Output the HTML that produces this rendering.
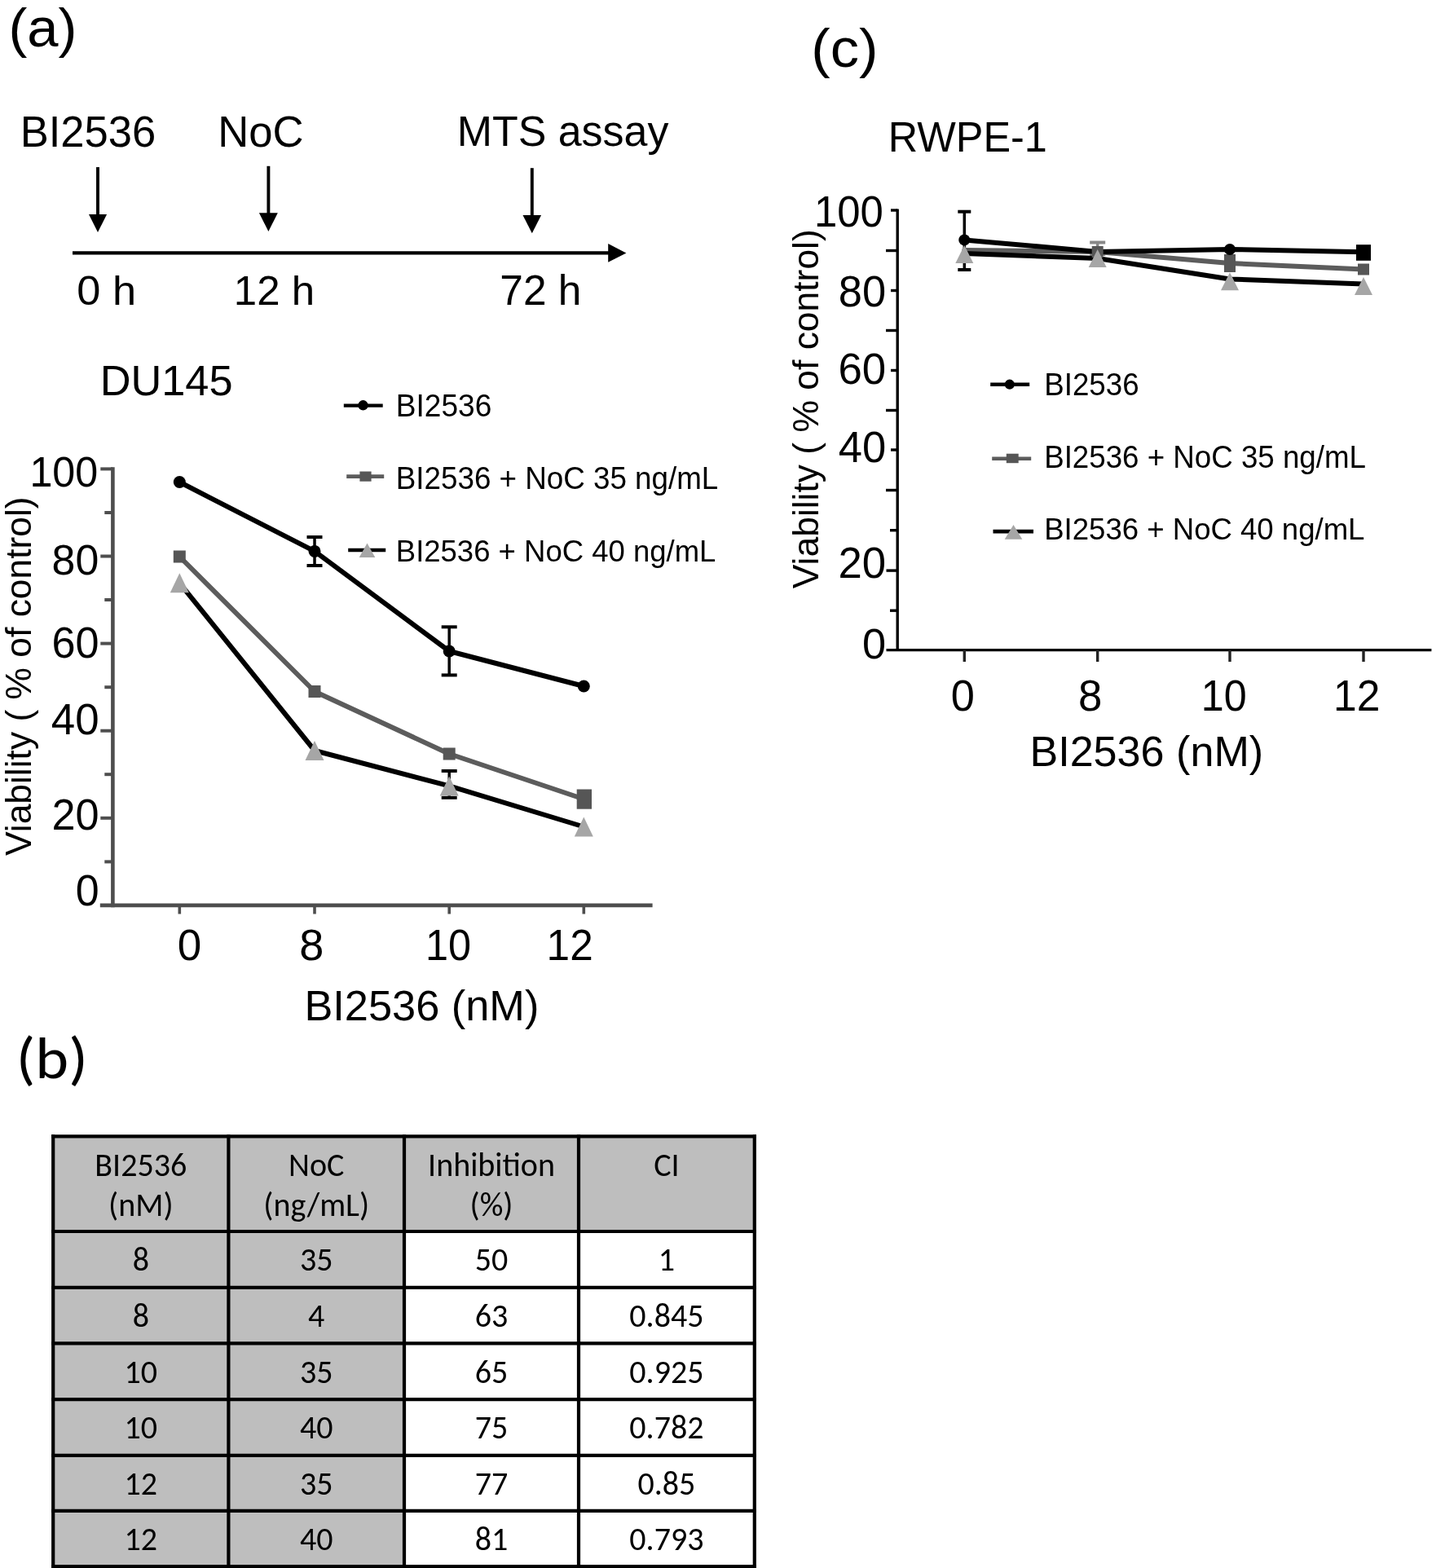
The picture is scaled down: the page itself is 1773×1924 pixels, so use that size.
<!DOCTYPE html>
<html><head><meta charset="utf-8"><title>Figure</title>
<style>html,body{margin:0;padding:0;background:#fff;}body{width:1773px;height:1924px;overflow:hidden;}svg{display:block;}</style>
</head><body>
<svg width="1773" height="1924" viewBox="0 0 1773 1924">
<rect width="1773" height="1924" fill="#fff"/>
<text transform="translate(10.4 56.8) scale(1.020 1)" font-size="67.45" font-family="'Liberation Sans', Arial, sans-serif" fill="#000">(a)</text>
<text transform="translate(24.7 180.0) scale(0.992 1)" font-size="53.00" font-family="'Liberation Sans', Arial, sans-serif" fill="#000">BI2536</text>
<text transform="translate(267.2 180.0) scale(0.995 1)" font-size="53.00" font-family="'Liberation Sans', Arial, sans-serif" fill="#000">NoC</text>
<text x="560.7" y="179.2" font-size="51.93" font-family="'Liberation Sans', Arial, sans-serif" fill="#000">MTS assay</text>
<line x1="120.0" y1="205.1" x2="120.0" y2="265.1" stroke="#000" stroke-width="3.9" stroke-linecap="butt"/>
<polygon points="109.0,263.1 131.1,263.1 120.0,284.9" fill="#000"/>
<line x1="329.4" y1="203.8" x2="329.4" y2="263.3" stroke="#000" stroke-width="3.9" stroke-linecap="butt"/>
<polygon points="317.9,261.3 340.8,261.3 329.4,283.9" fill="#000"/>
<line x1="652.8" y1="206.2" x2="652.8" y2="266.1" stroke="#000" stroke-width="3.9" stroke-linecap="butt"/>
<polygon points="641.5,264.1 664.1,264.1 652.8,286.2" fill="#000"/>
<line x1="89.0" y1="310.4" x2="750.0" y2="310.4" stroke="#000" stroke-width="4.2" stroke-linecap="butt"/>
<polygon points="746.2,299.1 768.4,310.4 746.2,321.7" fill="#000"/>
<text transform="translate(94.3 374.0) scale(1.043 1)" font-size="50.20" font-family="'Liberation Sans', Arial, sans-serif" fill="#000">0 h</text>
<text transform="translate(286.8 374.0) scale(1.016 1)" font-size="50.21" font-family="'Liberation Sans', Arial, sans-serif" fill="#000">12 h</text>
<text transform="translate(613.3 374.0) scale(1.008 1)" font-size="51.03" font-family="'Liberation Sans', Arial, sans-serif" fill="#000">72 h</text>
<text x="122.7" y="485.0" font-size="52.33" font-family="'Liberation Sans', Arial, sans-serif" fill="#000">DU145</text>
<line x1="138.4" y1="573.3" x2="138.4" y2="1113.2" stroke="#4e4e4e" stroke-width="4.6" stroke-linecap="butt"/>
<line x1="122.8" y1="1110.9" x2="800.6" y2="1110.9" stroke="#4e4e4e" stroke-width="4.6" stroke-linecap="butt"/>
<line x1="123.3" y1="575.4" x2="138.2" y2="575.4" stroke="#4e4e4e" stroke-width="4" stroke-linecap="butt"/>
<line x1="128.3" y1="629.0" x2="138.2" y2="629.0" stroke="#4e4e4e" stroke-width="4" stroke-linecap="butt"/>
<line x1="123.3" y1="682.5" x2="138.2" y2="682.5" stroke="#4e4e4e" stroke-width="4" stroke-linecap="butt"/>
<line x1="128.3" y1="736.0" x2="138.2" y2="736.0" stroke="#4e4e4e" stroke-width="4" stroke-linecap="butt"/>
<line x1="123.3" y1="789.6" x2="138.2" y2="789.6" stroke="#4e4e4e" stroke-width="4" stroke-linecap="butt"/>
<line x1="128.3" y1="843.2" x2="138.2" y2="843.2" stroke="#4e4e4e" stroke-width="4" stroke-linecap="butt"/>
<line x1="123.3" y1="896.7" x2="138.2" y2="896.7" stroke="#4e4e4e" stroke-width="4" stroke-linecap="butt"/>
<line x1="128.3" y1="950.2" x2="138.2" y2="950.2" stroke="#4e4e4e" stroke-width="4" stroke-linecap="butt"/>
<line x1="123.3" y1="1003.8" x2="138.2" y2="1003.8" stroke="#4e4e4e" stroke-width="4" stroke-linecap="butt"/>
<line x1="128.3" y1="1057.4" x2="138.2" y2="1057.4" stroke="#4e4e4e" stroke-width="4" stroke-linecap="butt"/>
<line x1="220.3" y1="1110.9" x2="220.3" y2="1121.5" stroke="#4e4e4e" stroke-width="3.6" stroke-linecap="butt"/>
<line x1="386.0" y1="1110.9" x2="386.0" y2="1121.5" stroke="#4e4e4e" stroke-width="3.6" stroke-linecap="butt"/>
<line x1="551.2" y1="1110.9" x2="551.2" y2="1121.5" stroke="#4e4e4e" stroke-width="3.6" stroke-linecap="butt"/>
<line x1="716.3" y1="1110.9" x2="716.3" y2="1121.5" stroke="#4e4e4e" stroke-width="3.6" stroke-linecap="butt"/>
<text transform="translate(36.4 596.8) scale(0.958 1)" font-size="52.44" font-family="'Liberation Sans', Arial, sans-serif" fill="#000">100</text>
<text transform="translate(63.6 705.0) scale(0.989 1)" font-size="52.44" font-family="'Liberation Sans', Arial, sans-serif" fill="#000">80</text>
<text transform="translate(63.4 807.2) scale(0.980 1)" font-size="53.29" font-family="'Liberation Sans', Arial, sans-serif" fill="#000">60</text>
<text x="62.8" y="900.6" font-size="52.86" font-family="'Liberation Sans', Arial, sans-serif" fill="#000">40</text>
<text transform="translate(63.4 1018.0) scale(0.974 1)" font-size="53.71" font-family="'Liberation Sans', Arial, sans-serif" fill="#000">20</text>
<text transform="translate(92.7 1111.0) scale(0.980 1)" font-size="53.00" font-family="'Liberation Sans', Arial, sans-serif" fill="#000">0</text>
<text x="217.7" y="1177.8" font-size="53.00" font-family="'Liberation Sans', Arial, sans-serif" fill="#000">0</text>
<text transform="translate(367.2 1177.8) scale(1.020 1)" font-size="53.00" font-family="'Liberation Sans', Arial, sans-serif" fill="#000">8</text>
<text transform="translate(521.9 1178.0) scale(0.951 1)" font-size="53.00" font-family="'Liberation Sans', Arial, sans-serif" fill="#000">10</text>
<text transform="translate(670.6 1178.0) scale(0.968 1)" font-size="53.05" font-family="'Liberation Sans', Arial, sans-serif" fill="#000">12</text>
<text x="373.4" y="1251.9" font-size="52.33" font-family="'Liberation Sans', Arial, sans-serif" fill="#000">BI2536 (nM)</text>
<text transform="translate(38.3 1050.0) rotate(-90)" font-size="44.39" font-family="'Liberation Sans', Arial, sans-serif">Viability ( % of control)</text>
<line x1="386.0" y1="659.0" x2="386.0" y2="694.0" stroke="#000" stroke-width="3.5" stroke-linecap="butt"/>
<line x1="376.5" y1="659.0" x2="395.5" y2="659.0" stroke="#000" stroke-width="4.0" stroke-linecap="butt"/>
<line x1="376.5" y1="694.0" x2="395.5" y2="694.0" stroke="#000" stroke-width="4.0" stroke-linecap="butt"/>
<line x1="551.2" y1="769.3" x2="551.2" y2="828.4" stroke="#000" stroke-width="3.5" stroke-linecap="butt"/>
<line x1="541.7" y1="769.3" x2="560.7" y2="769.3" stroke="#000" stroke-width="4.0" stroke-linecap="butt"/>
<line x1="541.7" y1="828.4" x2="560.7" y2="828.4" stroke="#000" stroke-width="4.0" stroke-linecap="butt"/>
<line x1="551.2" y1="946.0" x2="551.2" y2="978.8" stroke="#000" stroke-width="3.5" stroke-linecap="butt"/>
<line x1="541.7" y1="946.0" x2="560.7" y2="946.0" stroke="#000" stroke-width="4.0" stroke-linecap="butt"/>
<line x1="541.7" y1="978.8" x2="560.7" y2="978.8" stroke="#000" stroke-width="4.0" stroke-linecap="butt"/>
<polyline points="220.3,683.0 386.0,848.5 551.2,925.0 716.3,980.5" fill="none" stroke="#5c5c5c" stroke-width="6" stroke-linejoin="round" stroke-linecap="round"/>
<polyline points="220.3,715.3 386.0,921.0 551.2,964.4 716.3,1014.5" fill="none" stroke="#000" stroke-width="6" stroke-linejoin="round" stroke-linecap="round"/>
<polyline points="220.3,591.5 386.0,676.4 551.2,799.0 716.3,842.0" fill="none" stroke="#000" stroke-width="6" stroke-linejoin="round" stroke-linecap="round"/>
<circle cx="220.3" cy="591.5" r="7.5" fill="#000"/>
<circle cx="386.0" cy="676.4" r="7.5" fill="#000"/>
<circle cx="551.2" cy="799.0" r="7.5" fill="#000"/>
<circle cx="716.3" cy="842.0" r="7.5" fill="#000"/>
<rect x="212.8" y="675.5" width="15" height="15" fill="#565656"/>
<rect x="378.5" y="841.0" width="15" height="15" fill="#565656"/>
<rect x="543.7" y="917.5" width="15" height="15" fill="#565656"/>
<rect x="707.7" y="968.5" width="18.3" height="24.2" fill="#565656"/>
<polygon points="220.3,703.3 231.8,727.3 208.8,727.3" fill="#a6a6a6"/>
<polygon points="386.0,909.0 397.5,933.0 374.5,933.0" fill="#a6a6a6"/>
<polygon points="551.2,952.4 562.7,976.4 539.7,976.4" fill="#a6a6a6"/>
<polygon points="716.3,1002.5 727.8,1026.5 704.8,1026.5" fill="#a6a6a6"/>
<line x1="421.8" y1="497.6" x2="469.7" y2="497.6" stroke="#000" stroke-width="4.4" stroke-linecap="butt"/>
<circle cx="445.5" cy="497.3" r="6.2" fill="#000"/>
<line x1="425.2" y1="584.6" x2="471.2" y2="584.6" stroke="#5c5c5c" stroke-width="4.6" stroke-linecap="butt"/>
<rect x="441.4" y="578.5" width="14.2" height="12.2" fill="#565656"/>
<line x1="427.2" y1="675.0" x2="473.2" y2="675.0" stroke="#000" stroke-width="4.6" stroke-linecap="butt"/>
<polygon points="450.5,666.5 460.3,684.1 440.7,684.1" fill="#a6a6a6"/>
<text transform="translate(485.8 599.9) scale(0.969 1)" font-size="37.96" font-family="'Liberation Sans', Arial, sans-serif">BI2536 + NoC 35 ng/mL</text>
<text transform="translate(485.8 510.7) scale(0.973 1)" font-size="38.11" font-family="'Liberation Sans', Arial, sans-serif">BI2536</text>
<text transform="translate(485.8 688.8) scale(0.969 1)" font-size="37.67" font-family="'Liberation Sans', Arial, sans-serif">BI2536 + NoC 40 ng/mL</text>
<text transform="translate(995.3 81.9) scale(1.058 1)" font-size="66.60" font-family="'Liberation Sans', Arial, sans-serif" fill="#000">(c)</text>
<text transform="translate(1089.8 185.8) scale(0.968 1)" font-size="52.07" font-family="'Liberation Sans', Arial, sans-serif" fill="#000">RWPE-1</text>
<line x1="1101.2" y1="256.5" x2="1101.2" y2="799.0" stroke="#000" stroke-width="3.4" stroke-linecap="butt"/>
<line x1="1087.5" y1="797.6" x2="1756.4" y2="797.6" stroke="#000" stroke-width="3.4" stroke-linecap="butt"/>
<line x1="1093.0" y1="258.0" x2="1101.2" y2="258.0" stroke="#000" stroke-width="3.4" stroke-linecap="butt"/>
<line x1="1087.0" y1="307.5" x2="1101.2" y2="307.5" stroke="#000" stroke-width="3.4" stroke-linecap="butt"/>
<line x1="1093.0" y1="356.5" x2="1101.2" y2="356.5" stroke="#000" stroke-width="3.4" stroke-linecap="butt"/>
<line x1="1087.0" y1="405.5" x2="1101.2" y2="405.5" stroke="#000" stroke-width="3.4" stroke-linecap="butt"/>
<line x1="1093.0" y1="454.5" x2="1101.2" y2="454.5" stroke="#000" stroke-width="3.4" stroke-linecap="butt"/>
<line x1="1087.0" y1="503.5" x2="1101.2" y2="503.5" stroke="#000" stroke-width="3.4" stroke-linecap="butt"/>
<line x1="1093.0" y1="552.0" x2="1101.2" y2="552.0" stroke="#000" stroke-width="3.4" stroke-linecap="butt"/>
<line x1="1087.0" y1="601.5" x2="1101.2" y2="601.5" stroke="#000" stroke-width="3.4" stroke-linecap="butt"/>
<line x1="1092.0" y1="650.7" x2="1101.2" y2="650.7" stroke="#000" stroke-width="3.4" stroke-linecap="butt"/>
<line x1="1087.5" y1="700.1" x2="1101.2" y2="700.1" stroke="#000" stroke-width="3.4" stroke-linecap="butt"/>
<line x1="1092.0" y1="749.2" x2="1101.2" y2="749.2" stroke="#000" stroke-width="3.4" stroke-linecap="butt"/>
<line x1="1183.3" y1="797.7" x2="1183.3" y2="812.0" stroke="#222" stroke-width="3.4" stroke-linecap="butt"/>
<line x1="1346.7" y1="797.7" x2="1346.7" y2="812.0" stroke="#222" stroke-width="3.4" stroke-linecap="butt"/>
<line x1="1509.0" y1="797.7" x2="1509.0" y2="812.0" stroke="#222" stroke-width="3.4" stroke-linecap="butt"/>
<line x1="1673.0" y1="797.7" x2="1673.0" y2="812.0" stroke="#222" stroke-width="3.4" stroke-linecap="butt"/>
<text transform="translate(999.0 278.1) scale(0.952 1)" font-size="53.43" font-family="'Liberation Sans', Arial, sans-serif" fill="#000">100</text>
<text transform="translate(1028.8 376.0) scale(0.989 1)" font-size="53.00" font-family="'Liberation Sans', Arial, sans-serif" fill="#000">80</text>
<text transform="translate(1028.4 471.2) scale(0.988 1)" font-size="53.43" font-family="'Liberation Sans', Arial, sans-serif" fill="#000">60</text>
<text transform="translate(1028.7 566.8) scale(0.980 1)" font-size="53.57" font-family="'Liberation Sans', Arial, sans-serif" fill="#000">40</text>
<text transform="translate(1028.4 709.2) scale(0.992 1)" font-size="53.14" font-family="'Liberation Sans', Arial, sans-serif" fill="#000">20</text>
<text x="1057.9" y="807.7" font-size="52.30" font-family="'Liberation Sans', Arial, sans-serif" fill="#000">0</text>
<text transform="translate(1166.7 872.1) scale(0.983 1)" font-size="53.29" font-family="'Liberation Sans', Arial, sans-serif" fill="#000">0</text>
<text transform="translate(1323.1 872.1) scale(0.990 1)" font-size="53.29" font-family="'Liberation Sans', Arial, sans-serif" fill="#000">8</text>
<text transform="translate(1473.8 872.1) scale(0.938 1)" font-size="53.57" font-family="'Liberation Sans', Arial, sans-serif" fill="#000">10</text>
<text transform="translate(1636.1 872.1) scale(0.962 1)" font-size="53.62" font-family="'Liberation Sans', Arial, sans-serif" fill="#000">12</text>
<text transform="translate(1263.4 939.9) scale(0.996 1)" font-size="52.33" font-family="'Liberation Sans', Arial, sans-serif" fill="#000">BI2536 (nM)</text>
<text transform="translate(1004.2 722.2) rotate(-90)" font-size="44.41" font-family="'Liberation Sans', Arial, sans-serif">Viability ( % of control)</text>
<line x1="1183.3" y1="259.7" x2="1183.3" y2="331.0" stroke="#000" stroke-width="3.5" stroke-linecap="butt"/>
<line x1="1175.3" y1="259.7" x2="1191.3" y2="259.7" stroke="#000" stroke-width="4.0" stroke-linecap="butt"/>
<line x1="1175.3" y1="331.0" x2="1191.3" y2="331.0" stroke="#000" stroke-width="4.0" stroke-linecap="butt"/>
<line x1="1346.7" y1="297.5" x2="1346.7" y2="312.0" stroke="#888" stroke-width="3.5" stroke-linecap="butt"/>
<line x1="1337.2" y1="297.5" x2="1356.2" y2="297.5" stroke="#888" stroke-width="4.0" stroke-linecap="butt"/>
<line x1="1337.2" y1="312.0" x2="1356.2" y2="312.0" stroke="#888" stroke-width="4.0" stroke-linecap="butt"/>
<line x1="1509.0" y1="314.0" x2="1509.0" y2="332.0" stroke="#565656" stroke-width="3.5" stroke-linecap="butt"/>
<line x1="1502.0" y1="314.0" x2="1516.0" y2="314.0" stroke="#565656" stroke-width="4.0" stroke-linecap="butt"/>
<line x1="1502.0" y1="332.0" x2="1516.0" y2="332.0" stroke="#565656" stroke-width="4.0" stroke-linecap="butt"/>
<polyline points="1183.3,307.0 1346.7,309.0 1509.0,323.0 1673.0,330.5" fill="none" stroke="#5c5c5c" stroke-width="6" stroke-linejoin="round" stroke-linecap="round"/>
<polyline points="1183.3,311.0 1346.7,317.0 1509.0,342.5 1673.0,348.5" fill="none" stroke="#000" stroke-width="6" stroke-linejoin="round" stroke-linecap="round"/>
<polyline points="1183.3,294.4 1346.7,308.9 1509.0,306.0 1673.0,309.2" fill="none" stroke="#000" stroke-width="6" stroke-linejoin="round" stroke-linecap="round"/>
<circle cx="1183.3" cy="294.4" r="7" fill="#000"/>
<circle cx="1346.7" cy="308.9" r="7" fill="#000"/>
<circle cx="1509.0" cy="306.0" r="7" fill="#000"/>
<rect x="1664.0" y="300.2" width="18.0" height="19.6" fill="#000"/>
<rect x="1339.7" y="302.0" width="14" height="14" fill="#565656"/>
<rect x="1502.0" y="316.0" width="14" height="14" fill="#565656"/>
<rect x="1666.0" y="323.5" width="14" height="14" fill="#565656"/>
<polygon points="1183.3,301.0 1194.3,323.0 1172.3,323.0" fill="#a6a6a6"/>
<polygon points="1346.7,306.0 1357.7,328.0 1335.7,328.0" fill="#a6a6a6"/>
<polygon points="1509.0,334.3 1520.0,356.3 1498.0,356.3" fill="#a6a6a6"/>
<polygon points="1673.0,340.0 1684.0,362.0 1662.0,362.0" fill="#a6a6a6"/>
<line x1="1215.2" y1="471.7" x2="1263.2" y2="471.7" stroke="#000" stroke-width="4.4" stroke-linecap="butt"/>
<circle cx="1238.8" cy="471.7" r="6.1" fill="#000"/>
<line x1="1217.2" y1="562.7" x2="1265.2" y2="562.7" stroke="#5c5c5c" stroke-width="4.6" stroke-linecap="butt"/>
<rect x="1234.8" y="556.7" width="14.9" height="11.5" fill="#565656"/>
<line x1="1218.5" y1="652.1" x2="1268.0" y2="652.1" stroke="#000" stroke-width="4.6" stroke-linecap="butt"/>
<polygon points="1243.5,644.0 1254.3,661.8 1232.7,661.8" fill="#a6a6a6"/>
<text transform="translate(1281.2 574.0) scale(0.967 1)" font-size="37.96" font-family="'Liberation Sans', Arial, sans-serif">BI2536 + NoC 35 ng/mL</text>
<text transform="translate(1281.2 485.2) scale(0.942 1)" font-size="38.98" font-family="'Liberation Sans', Arial, sans-serif">BI2536</text>
<text transform="translate(1281.2 661.8) scale(0.967 1)" font-size="37.82" font-family="'Liberation Sans', Arial, sans-serif">BI2536 + NoC 40 ng/mL</text>
<text transform="translate(19.8 1323.0) scale(1.086 1)" font-size="71.59" font-family="Carlito, Calibri, 'Liberation Sans', sans-serif" fill="#000">(b)</text>
<rect x="65.2" y="1394.3" width="860.6" height="116.7" fill="#bebebe"/>
<rect x="65.2" y="1511.0" width="430.8" height="411.2" fill="#bebebe"/>
<line x1="65.2" y1="1392.2" x2="65.2" y2="1924.3" stroke="#000" stroke-width="4.2" stroke-linecap="butt"/>
<line x1="280.4" y1="1392.2" x2="280.4" y2="1924.3" stroke="#000" stroke-width="4.2" stroke-linecap="butt"/>
<line x1="496.0" y1="1392.2" x2="496.0" y2="1924.3" stroke="#000" stroke-width="4.2" stroke-linecap="butt"/>
<line x1="710.0" y1="1392.2" x2="710.0" y2="1924.3" stroke="#000" stroke-width="4.2" stroke-linecap="butt"/>
<line x1="925.8" y1="1392.2" x2="925.8" y2="1924.3" stroke="#000" stroke-width="4.2" stroke-linecap="butt"/>
<line x1="63.1" y1="1394.3" x2="927.9" y2="1394.3" stroke="#000" stroke-width="4.2" stroke-linecap="butt"/>
<line x1="63.1" y1="1511.0" x2="927.9" y2="1511.0" stroke="#000" stroke-width="4.2" stroke-linecap="butt"/>
<line x1="63.1" y1="1579.8" x2="927.9" y2="1579.8" stroke="#000" stroke-width="4.2" stroke-linecap="butt"/>
<line x1="63.1" y1="1648.4" x2="927.9" y2="1648.4" stroke="#000" stroke-width="4.2" stroke-linecap="butt"/>
<line x1="63.1" y1="1717.1" x2="927.9" y2="1717.1" stroke="#000" stroke-width="4.2" stroke-linecap="butt"/>
<line x1="63.1" y1="1785.8" x2="927.9" y2="1785.8" stroke="#000" stroke-width="4.2" stroke-linecap="butt"/>
<line x1="63.1" y1="1853.8" x2="927.9" y2="1853.8" stroke="#000" stroke-width="4.2" stroke-linecap="butt"/>
<line x1="63.1" y1="1922.2" x2="927.9" y2="1922.2" stroke="#000" stroke-width="4.2" stroke-linecap="butt"/>
<text x="172.8" y="1443.3" font-size="40" text-anchor="middle" font-family="Carlito, Calibri, 'Liberation Sans', sans-serif">BI2536</text>
<text x="172.8" y="1492.0" font-size="40" text-anchor="middle" font-family="Carlito, Calibri, 'Liberation Sans', sans-serif">(nM)</text>
<text x="388.2" y="1443.3" font-size="40" text-anchor="middle" font-family="Carlito, Calibri, 'Liberation Sans', sans-serif">NoC</text>
<text x="388.2" y="1492.0" font-size="40" text-anchor="middle" font-family="Carlito, Calibri, 'Liberation Sans', sans-serif">(ng/mL)</text>
<text x="603.0" y="1443.3" font-size="40" text-anchor="middle" font-family="Carlito, Calibri, 'Liberation Sans', sans-serif">Inhibition</text>
<text x="603.0" y="1492.0" font-size="40" text-anchor="middle" font-family="Carlito, Calibri, 'Liberation Sans', sans-serif">(%)</text>
<text x="817.9" y="1443.3" font-size="40" text-anchor="middle" font-family="Carlito, Calibri, 'Liberation Sans', sans-serif">CI</text>
<text x="172.8" y="1559.2" font-size="40" text-anchor="middle" font-family="Carlito, Calibri, 'Liberation Sans', sans-serif">8</text>
<text x="388.2" y="1559.2" font-size="40" text-anchor="middle" font-family="Carlito, Calibri, 'Liberation Sans', sans-serif">35</text>
<text x="603.0" y="1559.2" font-size="40" text-anchor="middle" font-family="Carlito, Calibri, 'Liberation Sans', sans-serif">50</text>
<text x="817.9" y="1559.2" font-size="40" text-anchor="middle" font-family="Carlito, Calibri, 'Liberation Sans', sans-serif">1</text>
<text x="172.8" y="1628.0" font-size="40" text-anchor="middle" font-family="Carlito, Calibri, 'Liberation Sans', sans-serif">8</text>
<text x="388.2" y="1628.0" font-size="40" text-anchor="middle" font-family="Carlito, Calibri, 'Liberation Sans', sans-serif">4</text>
<text x="603.0" y="1628.0" font-size="40" text-anchor="middle" font-family="Carlito, Calibri, 'Liberation Sans', sans-serif">63</text>
<text x="817.9" y="1628.0" font-size="40" text-anchor="middle" font-family="Carlito, Calibri, 'Liberation Sans', sans-serif">0.845</text>
<text x="172.8" y="1696.6" font-size="40" text-anchor="middle" font-family="Carlito, Calibri, 'Liberation Sans', sans-serif">10</text>
<text x="388.2" y="1696.6" font-size="40" text-anchor="middle" font-family="Carlito, Calibri, 'Liberation Sans', sans-serif">35</text>
<text x="603.0" y="1696.6" font-size="40" text-anchor="middle" font-family="Carlito, Calibri, 'Liberation Sans', sans-serif">65</text>
<text x="817.9" y="1696.6" font-size="40" text-anchor="middle" font-family="Carlito, Calibri, 'Liberation Sans', sans-serif">0.925</text>
<text x="172.8" y="1765.3" font-size="40" text-anchor="middle" font-family="Carlito, Calibri, 'Liberation Sans', sans-serif">10</text>
<text x="388.2" y="1765.3" font-size="40" text-anchor="middle" font-family="Carlito, Calibri, 'Liberation Sans', sans-serif">40</text>
<text x="603.0" y="1765.3" font-size="40" text-anchor="middle" font-family="Carlito, Calibri, 'Liberation Sans', sans-serif">75</text>
<text x="817.9" y="1765.3" font-size="40" text-anchor="middle" font-family="Carlito, Calibri, 'Liberation Sans', sans-serif">0.782</text>
<text x="172.8" y="1834.0" font-size="40" text-anchor="middle" font-family="Carlito, Calibri, 'Liberation Sans', sans-serif">12</text>
<text x="388.2" y="1834.0" font-size="40" text-anchor="middle" font-family="Carlito, Calibri, 'Liberation Sans', sans-serif">35</text>
<text x="603.0" y="1834.0" font-size="40" text-anchor="middle" font-family="Carlito, Calibri, 'Liberation Sans', sans-serif">77</text>
<text x="817.9" y="1834.0" font-size="40" text-anchor="middle" font-family="Carlito, Calibri, 'Liberation Sans', sans-serif">0.85</text>
<text x="172.8" y="1902.0" font-size="40" text-anchor="middle" font-family="Carlito, Calibri, 'Liberation Sans', sans-serif">12</text>
<text x="388.2" y="1902.0" font-size="40" text-anchor="middle" font-family="Carlito, Calibri, 'Liberation Sans', sans-serif">40</text>
<text x="603.0" y="1902.0" font-size="40" text-anchor="middle" font-family="Carlito, Calibri, 'Liberation Sans', sans-serif">81</text>
<text x="817.9" y="1902.0" font-size="40" text-anchor="middle" font-family="Carlito, Calibri, 'Liberation Sans', sans-serif">0.793</text>
</svg>
</body></html>
